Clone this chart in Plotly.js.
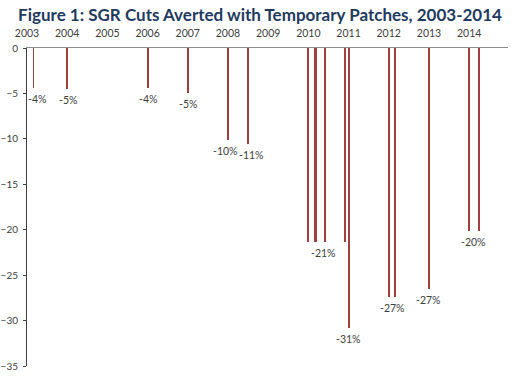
<!DOCTYPE html>
<html>
<head>
<meta charset="utf-8">
<script src="https://cdn.plot.ly/plotly-3.0.1.min.js"></script>
<style>html,body{margin:0;padding:0;background:#fff;}#chart{width:520px;height:377px;}</style>
</head>
<body>
<div id="chart"></div>
<script>
// Patch dates and SGR cut averted (%)
var patchDates = ['2003-03-01','2004-01-01','2006-01-01','2007-01-01','2008-01-01','2008-07-01',
  '2010-01-01','2010-03-01','2010-03-15','2010-06-01','2010-12-01','2011-01-01',
  '2012-01-01','2012-03-01','2013-01-01','2014-01-01','2014-04-01'];
var cutValues = [-4.4,-4.5,-4.4,-5.0,-10.1,-10.6,
  -21.3,-21.3,-21.3,-21.3,-21.3,-30.8,
  -27.4,-27.4,-26.5,-20.1,-20.1];

// Data labels
var labelDates = ['2003-04-01','2004-01-05','2006-01-01','2007-01-01','2007-12-10','2008-08-01',
  '2010-05-18','2011-01-01','2012-02-05','2013-01-01','2014-02-12'];
var labelValues = [-4.4,-4.5,-4.4,-5.0,-10.1,-10.6,-21.3,-30.8,-27.4,-26.5,-20.1];
var labelTexts = ['-4%','-5%','-4%','-5%','-10%','-11%','-21%','-31%','-27%','-27%','-20%'];

var yTicks = [0,-5,-10,-15,-20,-25,-30,-35];
var xTickVals = ['2003-01-01','2004-01-01','2005-01-01','2006-01-01','2007-01-01','2008-01-01',
  '2009-01-01','2010-01-01','2011-01-01','2012-01-01','2013-01-01','2014-01-01'];
var xTickText = ['2003','2004','2005','2006','2007','2008','2009','2010','2011','2012','2013','2014'];

var DAY = 86400000;
var tickFont = {family: 'Lato, "Open Sans", sans-serif', size: 10.5, color: '#404040'};
var yTickFont = {family: 'Lato, "Open Sans", sans-serif', size: 10, color: '#404040'};

var trace = {
  type: 'bar',
  x: patchDates,
  y: cutValues,
  width: 18 * DAY,
  marker: {color: '#A03F3D', line: {width: 0}},
  hoverinfo: 'x+y'
};

var annotations = labelDates.map(function(d, i) {
  return {
    x: d, y: labelValues[i], xref: 'x', yref: 'y',
    text: labelTexts[i], showarrow: false,
    xanchor: 'center', yanchor: 'middle', yshift: -11,
    font: tickFont
  };
});

var layout = {
  width: 520, height: 377,
  margin: {l: 27, r: 12, t: 48, b: 11, pad: 0},
  paper_bgcolor: '#ffffff', plot_bgcolor: '#ffffff',
  showlegend: false,
  title: {
    text: '<b>Figure 1: SGR Cuts Averted with Temporary Patches, 2003-2014</b>',
    font: {family: 'Lato, "Open Sans", sans-serif', size: 17, color: '#1F3A5F'},
    xref: 'container', x: 0.5, xanchor: 'center',
    yref: 'container', y: 1 - 15/377, yanchor: 'middle'
  },
  xaxis: {
    type: 'date',
    side: 'top',
    range: ['2003-01-01', '2014-12-20'],
    tickvals: xTickVals, ticktext: xTickText,
    ticks: '', showgrid: false, zeroline: false,
    showline: true, linecolor: '#8C8C8C', linewidth: 1,
    tickfont: tickFont, ticklabelstandoff: 6
  },
  yaxis: {
    range: [-35, 0],
    tickvals: yTicks,
    ticks: 'outside', ticklen: 3, tickcolor: '#404040', tickwidth: 1,
    showgrid: false, zeroline: false,
    showline: true, linecolor: '#404040', linewidth: 1,
    tickfont: yTickFont, ticklabelstandoff: 3
  },
  annotations: annotations,
  bargap: 0
};

Plotly.newPlot('chart', [trace], layout, {displayModeBar: false, staticPlot: true});
</script>
</body>
</html>
